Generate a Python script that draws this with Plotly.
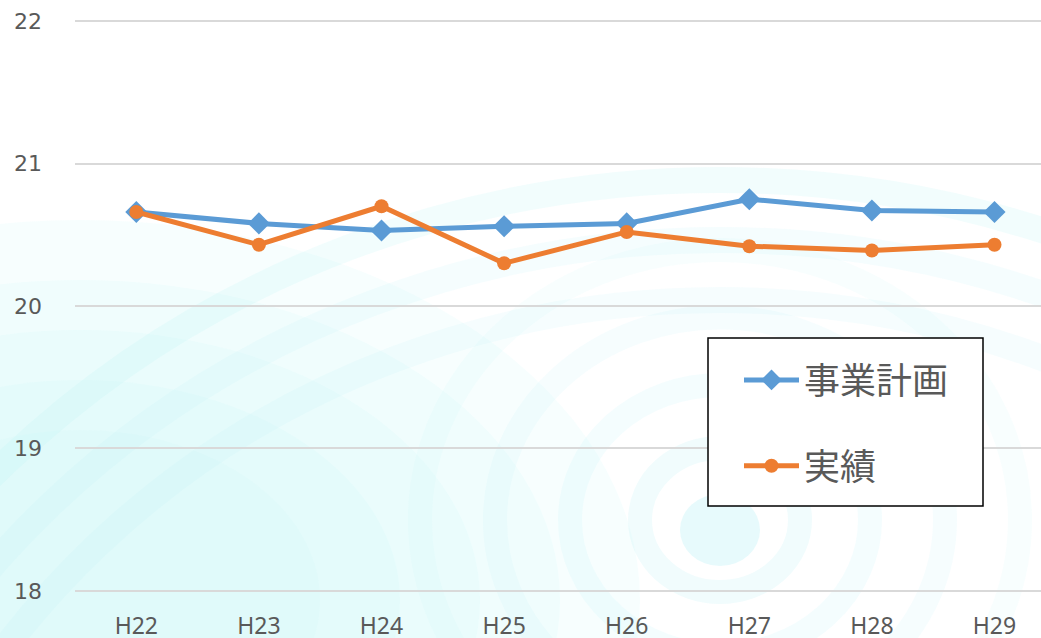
import plotly.graph_objects as go

categories = ["H22", "H23", "H24", "H25", "H26", "H27", "H28", "H29"]
plan_values = [20.66, 20.58, 20.53, 20.56, 20.58, 20.75, 20.67, 20.66]
actual_values = [20.66, 20.43, 20.70, 20.30, 20.52, 20.42, 20.39, 20.43]
y_ticks = [18, 19, 20, 21, 22]
series_names = ["事業計画", "実績"]

W, H = 1041, 638
L, R, T, B = 75, 0, 19, 45
PW, PH = W - L - R, H - T - B
PAD = 0.015  # y-range padding so edge gridlines get drawn

def px_x(x):
    return (x - L) / PW

def px_y(y):
    return (H - B - y) / PH

fig = go.Figure()

fig.add_trace(go.Scatter(
    x=categories, y=plan_values, name=series_names[0], mode="lines+markers",
    line=dict(color="#5B9BD5", width=5),
    marker=dict(symbol="diamond", size=17, color="#5B9BD5"),
    legendgroup="a",
))
fig.add_trace(go.Scatter(
    x=categories, y=actual_values, name=series_names[1], mode="lines+markers",
    line=dict(color="#ED7D31", width=5),
    marker=dict(symbol="circle", size=14, color="#ED7D31"),
    legendgroup="b",
))

shapes = []
# decorative water-ripple background (approximation)
def ell(cx, cy, rx, ry, fill=None, line=None, lw=0):
    d = dict(type="circle", xref="paper", yref="paper", layer="below",
             x0=px_x(cx - rx), x1=px_x(cx + rx), y0=px_y(cy + ry), y1=px_y(cy - ry))
    d["fillcolor"] = fill if fill else "rgba(0,0,0,0)"
    d["line"] = dict(color=line, width=lw) if line else dict(width=0)
    return d

for rx, ry, a in [(560, 380, 0.13), (480, 320, 0.13), (400, 270, 0.13), (320, 220, 0.13), (240, 170, 0.1)]:
    shapes.append(ell(80, 600, rx, ry, fill=f"rgba(195,245,250,{a})"))
for r, a in [(960, 0.18), (900, 0.15), (840, 0.12)]:
    shapes.append(ell(720, 1140, r * 1.05, r, line=f"rgba(185,242,246,{a})", lw=26))
for r, a in [(80, 0.2), (150, 0.16), (225, 0.13), (300, 0.1)]:
    shapes.append(ell(720, 520, r, r * 0.9, line=f"rgba(185,242,246,{a})", lw=24))
shapes.append(ell(720, 530, 40, 36, fill="rgba(175,238,244,0.3)"))

# legend box
shapes.append(dict(type="rect", xref="paper", yref="paper", layer="above",
                   x0=px_x(708), x1=px_x(983), y0=px_y(506), y1=px_y(338),
                   fillcolor="white", line=dict(color="black", width=1.5)))

fig.update_layout(
    width=W, height=H,
    margin=dict(l=L, r=R, t=T, b=B),
    paper_bgcolor="white", plot_bgcolor="rgba(0,0,0,0)",
    font=dict(family="Noto Sans, Noto Sans CJK JP, sans-serif", color="#595959"),
    showlegend=True,
    legend=dict(
        x=px_x(739), y=px_y(423), xanchor="left", yanchor="middle",
        bgcolor="rgba(0,0,0,0)", borderwidth=0,
        font=dict(size=36, color="#595959", family="Noto Sans CJK JP, sans-serif"),
        traceorder="grouped", tracegroupgap=36, itemwidth=55,
    ),
    shapes=shapes,
    xaxis=dict(
        type="category", range=[-0.5, -0.5 + PW / 122.6], automargin=False,
        showgrid=False, zeroline=False, showline=False, ticks="",
        tickfont=dict(size=23, color="#595959"), ticklabelstandoff=17,
    ),
    yaxis=dict(
        range=[y_ticks[0] - PAD, y_ticks[-1] + PAD], tickvals=y_ticks,
        showgrid=True, gridcolor="#D9D9D9", gridwidth=1.5,
        zeroline=False, showline=False, ticks="", automargin=False,
        tickfont=dict(size=22, color="#595959", family="DejaVu Sans, Verdana, sans-serif"),
        ticklabelstandoff=32,
    ),
)

fig.write_html("out.html", config={"displayModeBar": False},
               post_script="document.body.style.margin='0';document.body.style.overflow='hidden';")
